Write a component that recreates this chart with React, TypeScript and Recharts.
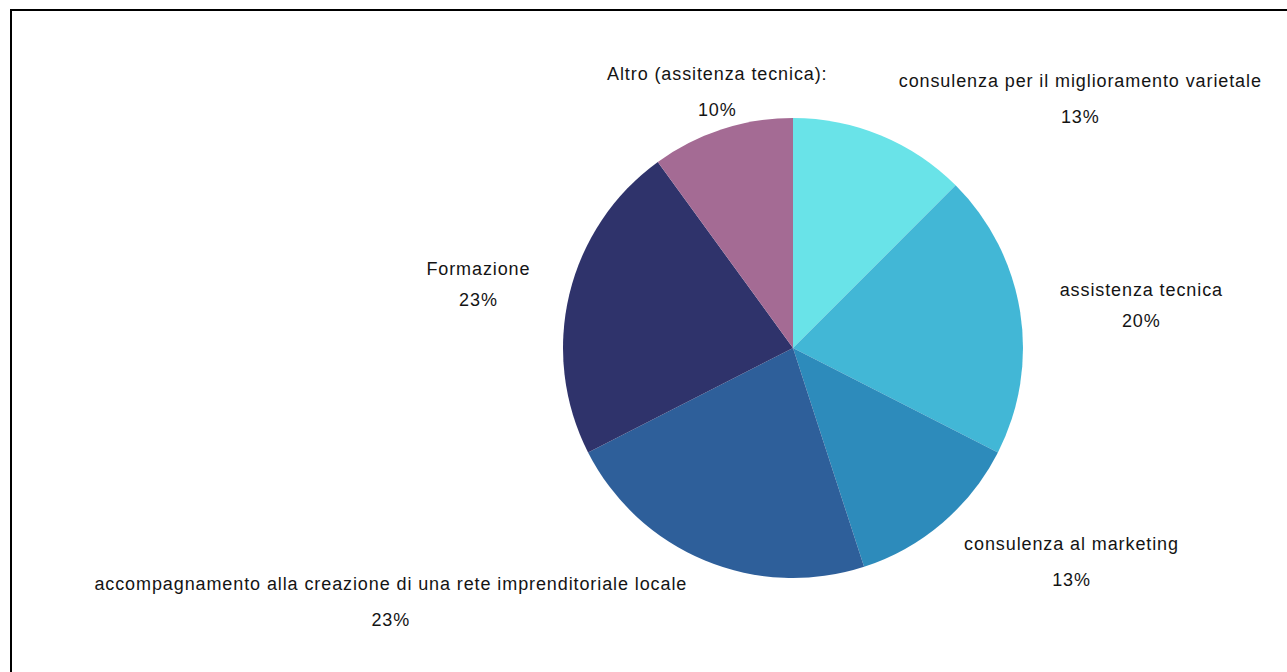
import React from 'react';
import { PieChart, Pie, Cell } from 'recharts';

// share of each service (counts out of 40)
const categories = [
  'consulenza per il miglioramento varietale',
  'assistenza tecnica',
  'consulenza al marketing',
  'accompagnamento alla creazione di una rete imprenditoriale locale',
  'Formazione',
  'Altro (assitenza tecnica):',
];
const values = [5, 8, 5, 9, 9, 4];
const colors = ['#69e3e8', '#42b7d6', '#2d8bbb', '#2e5f9a', '#2f336b', '#a46b94'];

const data = categories.map((name, i) => ({ name, value: values[i] }));

const FONT_SIZE = 18;
const LETTER_SPACING = 0.9;
const FONT_FAMILY = "'Liberation Sans', Arial, sans-serif";
const RAD = Math.PI / 180;

let ctx: CanvasRenderingContext2D | null = null;
const measure = (s: string) => {
  if (!ctx) ctx = document.createElement('canvas').getContext('2d');
  if (!ctx) return s.length * 9;
  ctx.font = `${FONT_SIZE}px ${FONT_FAMILY}`;
  return ctx.measureText(s).width + LETTER_SPACING * s.length;
};

const renderLabel = (props: any) => {
  const { cx, cy, midAngle, outerRadius, percent, name } = props;
  const c = Math.cos(midAngle * RAD);
  const s = Math.sin(midAngle * RAD);
  const side = Math.abs(s) < 0.5;
  const r = outerRadius + (side ? 40 : 15);
  const px = cx + r * c;
  const py = cy - r * s;
  const w = measure(name);
  const gap = side ? 31 : 36;
  const nudge = side ? 0 : 12;

  let mx = px;
  if (Math.abs(c) >= 0.35) mx = c > 0 ? px + nudge + w / 2 : px - nudge - w / 2;

  let y1: number;
  if (s > 0.5) y1 = py - 5 - gap;
  else if (s < -0.5) y1 = py + 10;
  else y1 = py - gap / 2;

  const style = { fontSize: FONT_SIZE, fontFamily: FONT_FAMILY, letterSpacing: LETTER_SPACING };
  return (
    <g>
      <text x={mx} y={y1} textAnchor="middle" dominantBaseline="central" fill="#141414" style={style}>
        {name}
      </text>
      <text x={mx} y={y1 + gap} textAnchor="middle" dominantBaseline="central" fill="#141414" style={style}>
        {`${Math.round(percent * 100)}%`}
      </text>
    </g>
  );
};

export default function App() {
  return (
    <div style={{ position: 'absolute', left: 0, top: 0, width: 1287, height: 672, overflow: 'hidden', background: '#fff' }}>
      <div
        style={{
          position: 'absolute',
          left: 10,
          top: 9,
          width: 1300,
          height: 700,
          borderTop: '2px solid #000',
          borderLeft: '2px solid #000',
        }}
      />
      <div style={{ position: 'absolute', left: 0, top: 0 }}>
        <PieChart width={1287} height={672} margin={{ top: 0, right: 0, bottom: 0, left: 0 }}>
          <Pie
            data={data}
            dataKey="value"
            nameKey="name"
            cx={793}
            cy={348}
            outerRadius={230}
            startAngle={90}
            endAngle={-270}
            stroke="none"
            label={renderLabel}
            labelLine={false}
            isAnimationActive={false}
          >
            {data.map((d, i) => (
              <Cell key={d.name} fill={colors[i]} />
            ))}
          </Pie>
        </PieChart>
      </div>
    </div>
  );
}
